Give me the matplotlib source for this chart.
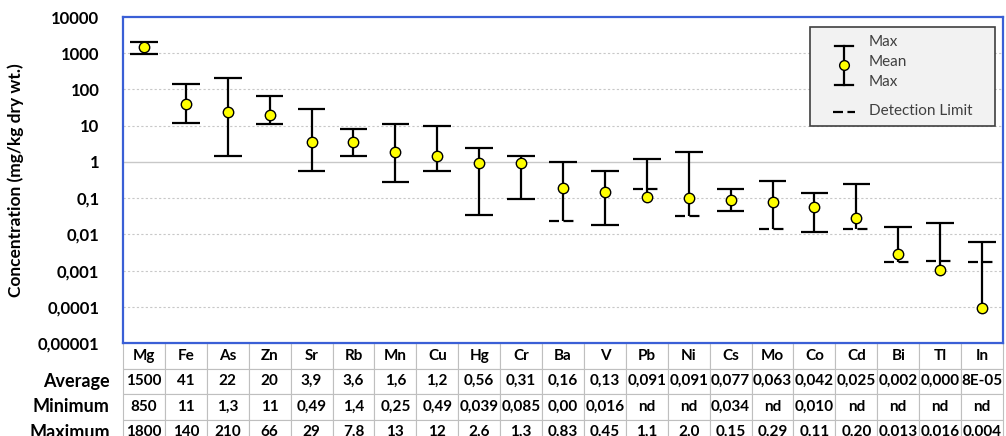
import numpy as np
import matplotlib
matplotlib.use("Agg")
import matplotlib.pyplot as plt
from matplotlib.patches import Rectangle

plt.rcParams['font.family'] = ['Lato', 'DejaVu Sans']

# Elements and table text (as printed under the chart)
elements = ['Mg', 'Fe', 'As', 'Zn', 'Sr', 'Rb', 'Mn', 'Cu', 'Hg', 'Cr', 'Ba',
            'V', 'Pb', 'Ni', 'Cs', 'Mo', 'Co', 'Cd', 'Bi', 'Tl', 'In']
avg_txt = ['1500', '41', '22', '20', '3,9', '3,6', '1,6', '1,2', '0,56', '0,31', '0,16',
           '0,13', '0,091', '0,091', '0,077', '0,063', '0,042', '0,025', '0,002', '0,000', '8E-05']
min_txt = ['850', '11', '1,3', '11', '0,49', '1,4', '0,25', '0,49', '0,039', '0,085', '0,00',
           '0,016', 'nd', 'nd', '0,034', 'nd', '0,010', 'nd', 'nd', 'nd', 'nd']
max_txt = ['1800', '140', '210', '66', '29', '7,8', '13', '12', '2,6', '1,3', '0,83',
           '0,45', '1,1', '2,0', '0,15', '0,29', '0,11', '0,20', '0,013', '0,016', '0,004']

# Plotted values
nan = np.nan
mean_plot = [1510, 40, 24, 20, 3.6, 3.6, 1.85, 1.43, 0.94, 0.94, 0.19,
             0.145, 0.11, 0.099, 0.091, 0.08, 0.056, 0.0286, 0.0029, 0.00105, 0.000093]
max_plot = [2000, 141, 205, 66, 28, 7.9, 10.8, 10, 2.4, 1.43, 1.0,
            0.57, 1.24, 1.93, 0.18, 0.296, 0.139, 0.24, 0.0162, 0.021, 0.0062]
min_plot = [940, 12, 1.5, 11, 0.55, 1.43, 0.27, 0.57, 0.035, 0.097, nan,
            0.0176, nan, nan, 0.043, nan, 0.0116, nan, nan, nan, nan]
det_limit = [nan, nan, nan, nan, nan, nan, nan, nan, nan, nan, 0.023,
             nan, 0.178, 0.032, nan, 0.0143, nan, 0.0137, 0.0017, 0.00178, 0.0017]

ytick_vals = [1e-5, 1e-4, 1e-3, 1e-2, 1e-1, 1, 10, 100, 1000, 10000]
ytick_lbls = ['0,00001', '0,0001', '0,001', '0,01', '0,1', '1', '10', '100', '1000', '10000']

fig = plt.figure(figsize=(10.06, 4.36), dpi=100)
ax = fig.add_axes([123 / 1006, 1 - 343 / 436, 880 / 1006, 326 / 436])

x = np.arange(len(elements))
mean_a = np.array(mean_plot, dtype=float)
max_a = np.array(max_plot, dtype=float)
min_a = np.array(min_plot, dtype=float)
dl_a = np.array(det_limit, dtype=float)

# lower end of the whisker: minimum, or the detection limit / mean when not detected
low = np.where(np.isnan(min_a), np.fmin(dl_a, mean_a), min_a)

cap = 0.33
ax.vlines(x, low, max_a, color='black', lw=1.6, zorder=3)
ax.hlines(max_a, x - cap, x + cap, color='black', lw=1.6, zorder=3)
has_min = ~np.isnan(min_a)
ax.hlines(min_a[has_min], x[has_min] - cap, x[has_min] + cap, color='black', lw=1.6, zorder=3)
has_dl = ~np.isnan(dl_a)
ax.hlines(dl_a[has_dl], x[has_dl] - cap, x[has_dl] + cap, color='black', lw=1.6,
          linestyles=[(0, (4.5, 2))], zorder=3)
ax.plot(x, mean_a, 'o', ms=7.5, mfc='#ffff00', mec='black', mew=1, zorder=4)

ax.set_yscale('log')
ax.set_ylim(1e-5, 1e4)
ax.set_xlim(-0.5, len(elements) - 0.5)
ax.set_xticks([])
ax.set_yticks(ytick_vals)
ax.set_yticklabels(ytick_lbls, fontsize=12, fontweight='bold')
ax.yaxis.set_minor_locator(matplotlib.ticker.NullLocator())
ax.tick_params(axis='y', length=0, pad=17)
for v in ytick_vals[1:-1]:
    if v == 1:
        ax.axhline(v, color='#c8c8c8', lw=1, zorder=1)
    else:
        ax.axhline(v, color='#c8c8c8', lw=0.8, ls=(0, (2, 2)), zorder=1)
for s in ax.spines.values():
    s.set_color('#3a5fd6')
    s.set_linewidth(1.6)
ax.set_ylabel('Concentration (mg/kg dry wt.)', fontsize=12.5, fontweight='bold')
ax.yaxis.set_label_coords(-0.112, 0.5)

# legend drawn by hand
lx0, ly0, lw, lh = 0.781, 0.666, 0.210, 0.303
ax.add_patch(Rectangle((lx0, ly0), lw, lh, transform=ax.transAxes, facecolor='#f2f2f2',
                       edgecolor='#404040', lw=1.2, zorder=5))
ix = (844 - 123) / 880
icw = 9 / 880
def ay(py):
    return 1 - (py - 17) / 326
ax.plot([ix, ix], [ay(46), ay(85)], color='black', lw=1.6, transform=ax.transAxes, zorder=6)
ax.plot([ix - icw, ix + icw], [ay(46), ay(46)], color='black', lw=1.6, transform=ax.transAxes, zorder=6)
ax.plot([ix - icw, ix + icw], [ay(85), ay(85)], color='black', lw=1.6, transform=ax.transAxes, zorder=6)
ax.plot([ix], [ay(65.5)], 'o', ms=7, mfc='#ffff00', mec='black', mew=1, transform=ax.transAxes, zorder=7)
ax.plot([(833 - 123) / 880, (855 - 123) / 880], [ay(112), ay(112)], color='black', lw=1.6,
        ls=(0, (4.5, 2)), transform=ax.transAxes, zorder=6)
tx = (869 - 123) / 880
for txt, py in [('Max', 42), ('Mean', 62), ('Max', 82), ('Detection Limit', 111)]:
    ax.text(tx, ay(py), txt, transform=ax.transAxes, fontsize=11, color='#404040',
            va='center', ha='left', zorder=7)

# table under the plot
rows = [elements, avg_txt, min_txt, max_txt]
row_h = 25.5 / 326
tb = ax.table(cellText=rows, cellLoc='center', bbox=[0, -4 * row_h, 1, 4 * row_h])
tb.auto_set_font_size(False)
tb.set_fontsize(11)
for (r, c), cell in tb.get_celld().items():
    cell.set_edgecolor('#bfbfbf')
    cell.set_linewidth(0.8)
    cell.get_text().set_fontweight('bold')
    cell.PAD = 0.02
for i, lbl in enumerate(['Average', 'Minimum', 'Maximum']):
    ax.text(-0.015, -(i + 1.5) * row_h, lbl, transform=ax.transAxes, ha='right', va='center',
            fontsize=13, fontweight='bold')

fig.savefig('out.png', dpi=100)
